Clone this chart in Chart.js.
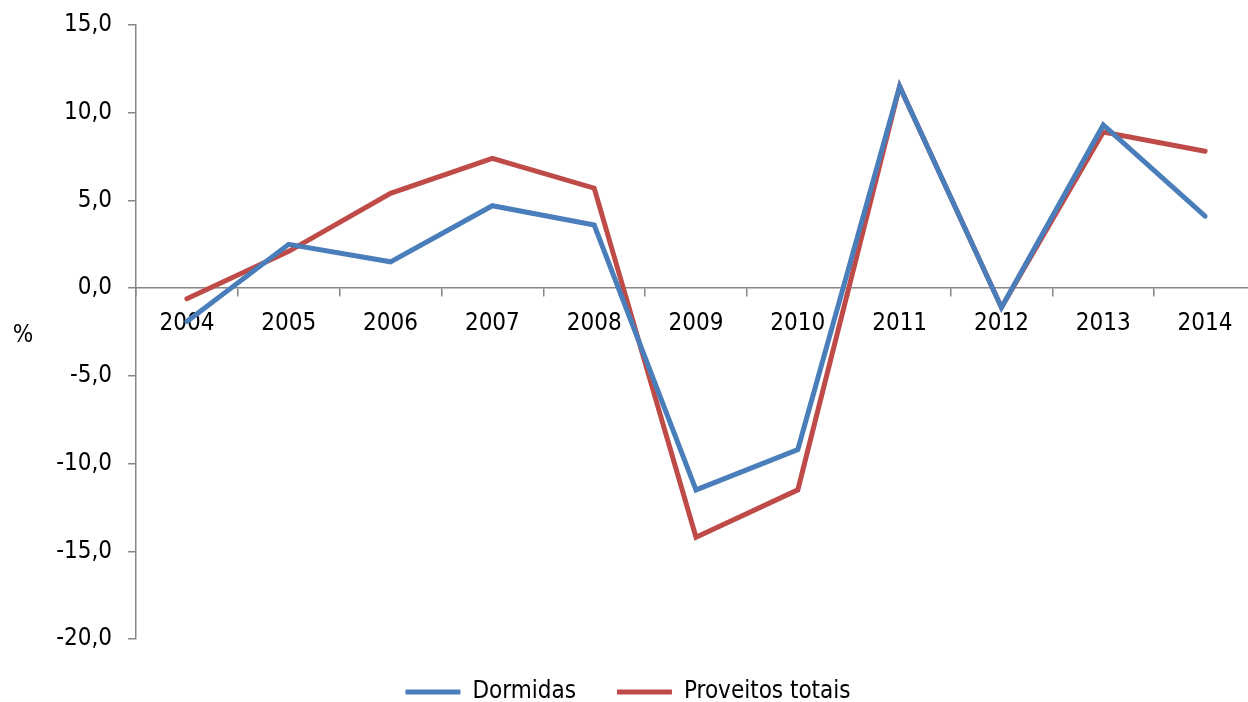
<!DOCTYPE html>
<html>
<head>
<meta charset="utf-8">
<script src="https://cdn.jsdelivr.net/npm/chart.js@4/dist/chart.umd.min.js"></script>
<style>
  html, body { margin: 0; padding: 0; background: #fff; overflow: hidden; }
  #wrap { width: 1256px; height: 702px; position: relative; }
</style>
</head>
<body>
<div id="wrap"><canvas id="c"></canvas></div>
<script>
const years = ['2004','2005','2006','2007','2008','2009','2010','2011','2012','2013','2014'];
const dormidas = [-1.9, 2.5, 1.5, 4.7, 3.6, -11.5, -9.2, 11.5, -1.1, 9.3, 4.1];
const proveitos = [-0.6, 2.1, 5.4, 7.4, 5.7, -14.2, -11.5, 11.5, -1.1, 8.9, 7.8];
const seriesNames = ['Dormidas', 'Proveitos totais'];
const yMin = -20, yMax = 15, yStep = 5;
const unitLabel = '%';

const FONT = '"DejaVu Sans Condensed", "DejaVu Sans", sans-serif';
const AXIS = '#868686';

const percentPlugin = {
  id: 'percentLabel',
  afterDraw(chart) {
    const {ctx, chartArea} = chart;
    ctx.save();
    ctx.font = '24px ' + FONT;
    ctx.fillStyle = '#000';
    ctx.textAlign = 'center';
    ctx.textBaseline = 'middle';
    ctx.fillText(unitLabel, chartArea.left - 113, (chartArea.top + chartArea.bottom) / 2 + 4);
    ctx.restore();
  }
};

new Chart(document.getElementById('c'), {
  type: 'line',
  data: {
    labels: years,
    datasets: [
      { label: seriesNames[0], data: dormidas, borderColor: '#4A7EBB', backgroundColor: '#4A7EBB',
        borderWidth: 5, pointRadius: 0, tension: 0, borderCapStyle: 'round', pointStyle: 'line' },
      { label: seriesNames[1], data: proveitos, borderColor: '#BE4B48', backgroundColor: '#BE4B48',
        borderWidth: 5, pointRadius: 0, tension: 0, borderCapStyle: 'round', pointStyle: 'line' }
    ]
  },
  options: {
    responsive: true,
    maintainAspectRatio: false,
    animation: false,
    layout: { padding: { top: 0, left: 0, right: 0, bottom: -12 } },
    plugins: {
      legend: {
        position: 'bottom',
        labels: {
          font: { family: FONT, size: 24 },
          color: '#000',
          usePointStyle: true,
          pointStyle: 'line',
          pointStyleWidth: 55,
          padding: 41
        }
      },
      tooltip: { enabled: false }
    },
    scales: {
      x: {
        position: { y: 0 },
        offset: true,
        grid: { offset: true, drawOnChartArea: false, tickLength: 8, color: AXIS, lineWidth: 1.5 },
        border: { color: AXIS, width: 1.5 },
        ticks: { font: { family: FONT, size: 24 }, color: '#000', padding: 13, maxRotation: 0 }
      },
      y: {
        min: yMin, max: yMax,
        afterFit(scale) { scale.width = 136; },
        grid: { drawOnChartArea: false, tickLength: 8, color: AXIS, lineWidth: 1.5 },
        border: { color: AXIS, width: 1.5 },
        ticks: {
          stepSize: yStep,
          font: { family: FONT, size: 24, lineHeight: 0.75 },
          color: '#000',
          padding: 16,
          callback: v => v.toFixed(1).replace('.', ',')
        }
      }
    }
  },
  plugins: [percentPlugin]
});
</script>
</body>
</html>
